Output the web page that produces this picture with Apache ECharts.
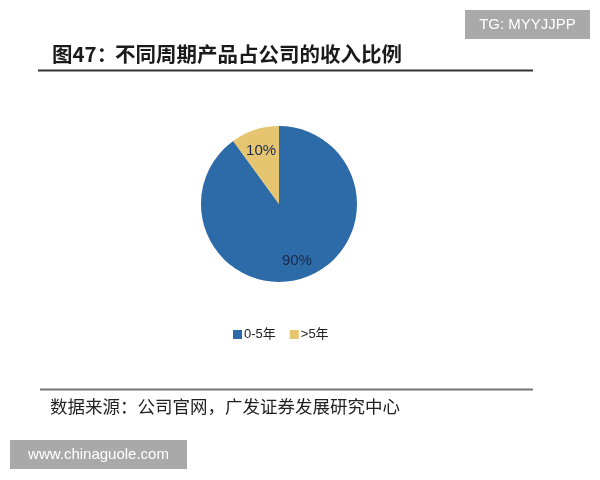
<!DOCTYPE html>
<html><head><meta charset="utf-8">
<script src="https://cdn.jsdelivr.net/npm/echarts@6/dist/echarts.min.js"></script>
<style>html,body{margin:0;padding:0;background:#fff}#c{width:600px;height:480px}</style>
</head><body><div id="c"></div>
<script>
const categories = ['0-5年', '>5年'];
const shares = [90, 10];
const colors = ['#2C6BA8', '#E6C570'];
const titleHead = '图47：';
const titleBody = '不同周期产品占公司的收入比例';
const sourceText = '数据来源：公司官网，广发证券发展研究中心';

const chart = echarts.init(document.getElementById('c'), null, {renderer: 'canvas'});
const pieData = categories.map((n, i) => ({name: n, value: shares[i], itemStyle: {color: colors[i]}}));
const labelData = categories.map((n, i) => ({name: n, value: shares[i]}));
chart.setOption({
  animation: false,
  backgroundColor: '#fff',
  legend: {
    data: categories,
    left: 228, top: 323,
    icon: 'rect', itemWidth: 9, itemHeight: 9, itemGap: 14,
    textStyle: {fontSize: 13, color: '#222', padding: [0, 0, 0, -3], fontFamily: 'Arial, "Noto Sans CJK SC", sans-serif'}
  },
  series: [
    {
      type: 'pie', center: [279, 204], radius: [0, 78],
      startAngle: 90, clockwise: true,
      data: pieData, label: {show: false}, labelLine: {show: false},
      itemStyle: {borderWidth: 0}, silent: true
    },
    {
      type: 'pie', center: [279, 206], radius: [0, 110],
      startAngle: 90, clockwise: true, silent: true,
      data: labelData,
      itemStyle: {color: 'rgba(0,0,0,0)'},
      label: {show: true, position: 'inside', formatter: '{c}%', fontSize: 15,
        color: '#1B2A4A', fontFamily: '"Liberation Sans Narrow", Arial, sans-serif'},
      labelLine: {show: false}
    }
  ],
  graphic: [
    {type: 'text', left: 52, top: 44, style: {text: titleHead, fontSize: 20.5, fontWeight: 'bold', fill: '#1a1a1a', fontFamily: '"Noto Sans CJK SC", sans-serif'}},
    {type: 'text', left: 115, top: 44, style: {text: titleBody, fontSize: 20.5, fontWeight: 'bold', fill: '#1a1a1a', fontFamily: '"Noto Sans CJK SC", sans-serif'}},
    {type: 'line', shape: {x1: 38, y1: 70.5, x2: 533, y2: 70.5}, style: {stroke: '#333', lineWidth: 2}},
    {type: 'line', shape: {x1: 40, y1: 389.5, x2: 533, y2: 389.5}, style: {stroke: '#777', lineWidth: 2}},
    {type: 'text', left: 50, top: 398, style: {text: sourceText, fontSize: 17.5, fill: '#222', fontFamily: '"Noto Sans CJK SC", sans-serif'}},
    {type: 'rect', shape: {x: 465, y: 10, width: 125, height: 29}, style: {fill: '#A9A9A9'}},
    {type: 'text', x: 527.5, y: 24.5, style: {text: 'TG: MYYJJPP', fontSize: 15, fill: '#fff', align: 'center', verticalAlign: 'middle', fontFamily: 'Arial, sans-serif'}},
    {type: 'rect', shape: {x: 10, y: 440, width: 177, height: 29}, style: {fill: '#A9A9A9'}},
    {type: 'text', x: 98.5, y: 454.5, style: {text: 'www.chinaguole.com', fontSize: 15, fill: '#fff', align: 'center', verticalAlign: 'middle', fontFamily: 'Arial, sans-serif'}}
  ]
});
</script></body></html>
